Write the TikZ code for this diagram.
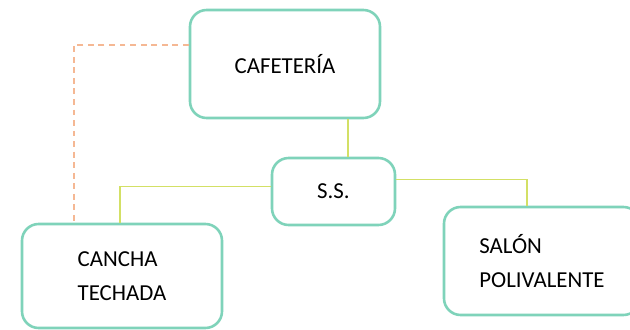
\documentclass[tikz,border=0pt]{standalone}
\usepackage{fontspec}
\setmainfont{Carlito}
\definecolor{boxline}{HTML}{7FD3BA}
\definecolor{linkline}{HTML}{D3E065}
\definecolor{dashline}{HTML}{F5B894}
\tikzset{
  area/.style={draw=boxline,line width=2.2pt,rounded corners=0.5cm,fill=white,
    align=left,font=\fontsize{19.5}{28.5}\selectfont,text=black,inner sep=0pt},
  link/.style={draw=linkline,line width=1.6pt},
  walk/.style={draw=dashline,line width=1.6pt,dash pattern=on 5pt off 4pt}
}
\begin{document}
\begin{tikzpicture}[x=0.03cm,y=-0.03cm]
  \useasboundingbox (0,0) rectangle (630,330);
  \clip (0,0) rectangle (630,330);
  \node[area,minimum width=5.7cm,minimum height=3.24cm] (cafe) at (285,64) {CAFETERÍA};
  \node[area,minimum width=3.69cm,minimum height=2.01cm] (ss) at (333.5,191.5) {S.S.};
  \node[area,minimum width=6cm,minimum height=3.12cm] (cancha) at (122,276) {CANCHA\\TECHADA};
  \node[area,minimum width=5.88cm,minimum height=3.24cm] (salon) at (542,261) {SALÓN\\POLIVALENTE};
  \coordinate (k) at (348,0);
  \draw[link] (cafe.south -| k) -- (ss.north -| k);
  \draw[link] ([yshift=0.15cm]ss.west) -| ([xshift=-0.06cm]cancha.north);
  \draw[link] ([yshift=0.36cm]ss.east) -| ([xshift=-0.45cm]salon.north);
  \draw[walk] ([yshift=0.57cm]cafe.west) -| ([xshift=-1.44cm]cancha.north);
\end{tikzpicture}
\end{document}
